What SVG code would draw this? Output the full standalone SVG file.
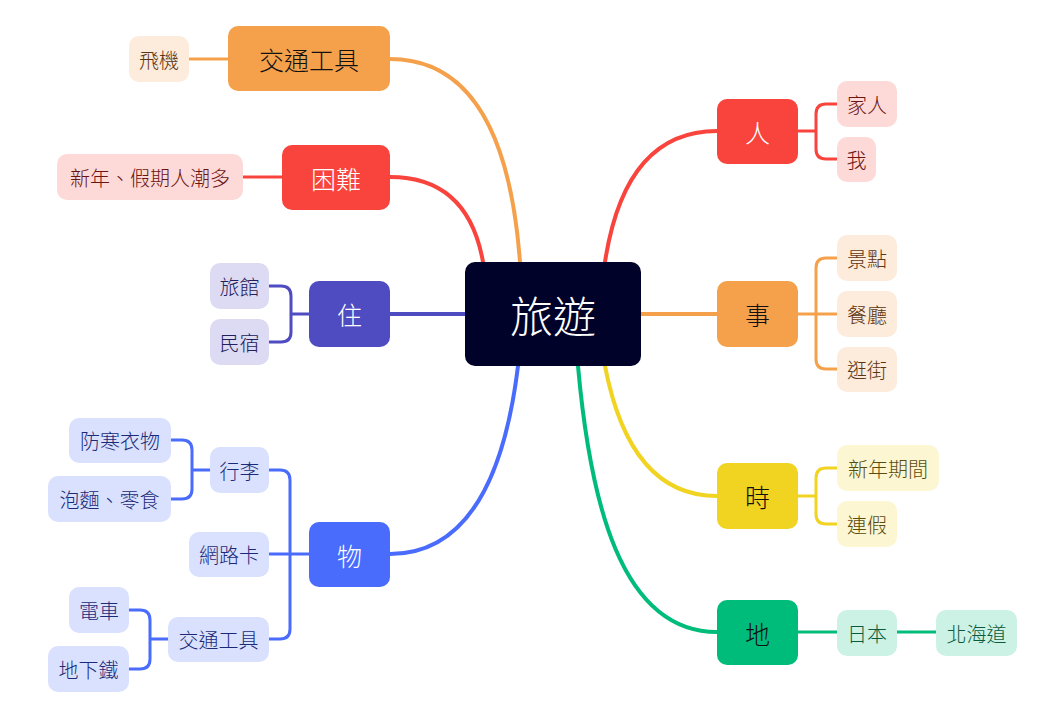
<svg xmlns="http://www.w3.org/2000/svg" width="1047" height="723" viewBox="0 0 1047 723">
  <style>
    text { font-family: "Noto Sans CJK TC", "Noto Sans CJK SC", sans-serif; font-weight: 300; text-anchor: middle; dominant-baseline: central; }
    .root-t { font-size: 43px; fill: #ffffff; }
    .main-t { font-size: 25px; }
    .sub-t { font-size: 20px; }
    .line { fill: none; stroke-linecap: round; stroke-linejoin: round; }
    .main-l { stroke-width: 4; }
    .sub-l { stroke-width: 3; }
    .red { stroke: #F9443D; }
    .orange { stroke: #F5A14C; }
    .indigo { stroke: #4F4BC1; }
    .blue { stroke: #4A6CFD; }
    .yellow { stroke: #F1D322; }
    .green { stroke: #00BC7B; }
  </style>
  <rect width="1047" height="723" fill="#ffffff"/>

  <g id="connectors">
    <!-- root to main topics -->
    <path class="line main-l orange" d="M520 262 Q505 59 390 59"/>
    <path class="line main-l red" d="M483 262 Q468 177 390 177"/>
    <path class="line main-l indigo" d="M465 314 H390"/>
    <path class="line main-l blue" d="M518 366 Q495 554 390 554"/>
    <path class="line main-l red" d="M605 262 Q625 131 717 131"/>
    <path class="line main-l orange" d="M641 314 H717"/>
    <path class="line main-l yellow" d="M605 366 Q630 496 717 496"/>
    <path class="line main-l green" d="M578 366 C590 500 620 632 717 632"/>

    <!-- left side subtopics -->
    <path class="line sub-l orange" d="M228 59 H189"/>
    <path class="line sub-l red" d="M282 177 H243"/>
    <path class="line sub-l indigo" d="M309 314 H291 M269 286 H281 Q291 286 291 296 V332 Q291 342 281 342 H269"/>
    <path class="line sub-l blue" d="M309 554 H269 M269 470 H280 Q290 470 290 480 V629 Q290 639 280 639 H269"/>
    <path class="line sub-l blue" d="M210 470 H192 M171 440 H182 Q192 440 192 450 V489 Q192 499 182 499 H171"/>
    <path class="line sub-l blue" d="M168 639 H150 M129 610 H140 Q150 610 150 620 V659 Q150 669 140 669 H129"/>

    <!-- right side subtopics -->
    <path class="line sub-l red" d="M798 131 H816 M837 104 H826 Q816 104 816 114 V149 Q816 159 826 159 H837"/>
    <path class="line sub-l orange" d="M798 314 H837 M837 258 H826 Q816 258 816 268 V359 Q816 369 826 369 H837"/>
    <path class="line sub-l yellow" d="M798 496 H816 M837 468 H826 Q816 468 816 478 V514 Q816 524 826 524 H837"/>
    <path class="line sub-l green" d="M798 632 H837 M897 632 H936"/>
  </g>

  <!-- central topic -->
  <g id="root">
    <rect x="465" y="262" width="176" height="104" rx="10" fill="#000229"/>
    <text class="root-t" x="553" y="314">旅遊</text>
  </g>

  <!-- main topics -->
  <g id="topic-transport">
    <rect x="228" y="26" width="162" height="65" rx="10" fill="#F5A14C"/>
    <text class="main-t" x="309" y="58.5" fill="#111111">交通工具</text>
  </g>
  <g id="topic-difficulty">
    <rect x="282" y="145" width="108" height="65" rx="10" fill="#F9443D"/>
    <text class="main-t" x="336" y="177.5" fill="#ffffff">困難</text>
  </g>
  <g id="topic-stay">
    <rect x="309" y="281" width="81" height="66" rx="10" fill="#4F4BC1"/>
    <text class="main-t" x="349.5" y="314" fill="#ffffff">住</text>
  </g>
  <g id="topic-things">
    <rect x="309" y="522" width="81" height="65" rx="10" fill="#4A6CFD"/>
    <text class="main-t" x="349.5" y="554.5" fill="#ffffff">物</text>
  </g>
  <g id="topic-who">
    <rect x="717" y="99" width="81" height="65" rx="10" fill="#F9443D"/>
    <text class="main-t" x="757.5" y="131.5" fill="#ffffff">人</text>
  </g>
  <g id="topic-what">
    <rect x="717" y="281" width="81" height="66" rx="10" fill="#F5A14C"/>
    <text class="main-t" x="757.5" y="314" fill="#111111">事</text>
  </g>
  <g id="topic-when">
    <rect x="717" y="463" width="81" height="66" rx="10" fill="#F1D322"/>
    <text class="main-t" x="757.5" y="496" fill="#111111">時</text>
  </g>
  <g id="topic-where">
    <rect x="717" y="600" width="81" height="65" rx="10" fill="#00BC7B"/>
    <text class="main-t" x="757.5" y="632.5" fill="#111111">地</text>
  </g>

  <!-- subtopics: transport -->
  <g id="sub-plane">
    <rect x="129" y="36" width="60" height="46" rx="10" fill="#FDEBDB"/>
    <text class="sub-t" x="159" y="59" fill="#5C3511">飛機</text>
  </g>
  <!-- subtopics: difficulty -->
  <g id="sub-crowds">
    <rect x="57" y="154" width="186" height="46" rx="10" fill="#FDD9D8"/>
    <text class="sub-t" x="150" y="177" fill="#6A1512">新年、假期人潮多</text>
  </g>
  <!-- subtopics: stay -->
  <g id="sub-hotel">
    <rect x="210" y="263" width="59" height="46" rx="10" fill="#DCDBF3"/>
    <text class="sub-t" x="239.5" y="286" fill="#22205A">旅館</text>
  </g>
  <g id="sub-bnb">
    <rect x="210" y="319" width="59" height="46" rx="10" fill="#DCDBF3"/>
    <text class="sub-t" x="239.5" y="342" fill="#22205A">民宿</text>
  </g>
  <!-- subtopics: things -->
  <g id="sub-luggage">
    <rect x="210" y="447" width="59" height="46" rx="10" fill="#DAE1FE"/>
    <text class="sub-t" x="239.5" y="470" fill="#1A2A78">行李</text>
  </g>
  <g id="sub-warm-clothes">
    <rect x="69" y="418" width="102" height="45" rx="10" fill="#DAE1FE"/>
    <text class="sub-t" x="120" y="440.5" fill="#1A2A78">防寒衣物</text>
  </g>
  <g id="sub-snacks">
    <rect x="48" y="476" width="123" height="46" rx="10" fill="#DAE1FE"/>
    <text class="sub-t" x="109.5" y="499" fill="#1A2A78">泡麵、零食</text>
  </g>
  <g id="sub-sim">
    <rect x="189" y="532" width="80" height="45" rx="10" fill="#DAE1FE"/>
    <text class="sub-t" x="229" y="554.5" fill="#1A2A78">網路卡</text>
  </g>
  <g id="sub-transport2">
    <rect x="168" y="617" width="101" height="45" rx="10" fill="#DAE1FE"/>
    <text class="sub-t" x="218.5" y="639.5" fill="#1A2A78">交通工具</text>
  </g>
  <g id="sub-train">
    <rect x="69" y="587" width="60" height="46" rx="10" fill="#DAE1FE"/>
    <text class="sub-t" x="99" y="610" fill="#1A2A78">電車</text>
  </g>
  <g id="sub-subway">
    <rect x="48" y="646" width="81" height="46" rx="10" fill="#DAE1FE"/>
    <text class="sub-t" x="88.5" y="669" fill="#1A2A78">地下鐵</text>
  </g>
  <!-- subtopics: who -->
  <g id="sub-family">
    <rect x="837" y="81" width="60" height="46" rx="10" fill="#FDD9D8"/>
    <text class="sub-t" x="867" y="104" fill="#6A1512">家人</text>
  </g>
  <g id="sub-me">
    <rect x="837" y="137" width="39" height="45" rx="10" fill="#FDD9D8"/>
    <text class="sub-t" x="856.5" y="159.5" fill="#6A1512">我</text>
  </g>
  <!-- subtopics: what -->
  <g id="sub-sights">
    <rect x="837" y="235" width="60" height="46" rx="10" fill="#FDEBDB"/>
    <text class="sub-t" x="867" y="258" fill="#5C3511">景點</text>
  </g>
  <g id="sub-restaurant">
    <rect x="837" y="291" width="60" height="46" rx="10" fill="#FDEBDB"/>
    <text class="sub-t" x="867" y="314" fill="#5C3511">餐廳</text>
  </g>
  <g id="sub-shopping">
    <rect x="837" y="347" width="60" height="45" rx="10" fill="#FDEBDB"/>
    <text class="sub-t" x="867" y="369.5" fill="#5C3511">逛街</text>
  </g>
  <!-- subtopics: when -->
  <g id="sub-new-year">
    <rect x="837" y="445" width="102" height="46" rx="10" fill="#FCF6D3"/>
    <text class="sub-t" x="888" y="468" fill="#5A4C0C">新年期間</text>
  </g>
  <g id="sub-holiday">
    <rect x="837" y="501" width="60" height="46" rx="10" fill="#FCF6D3"/>
    <text class="sub-t" x="867" y="524" fill="#5A4C0C">連假</text>
  </g>
  <!-- subtopics: where -->
  <g id="sub-japan">
    <rect x="837" y="610" width="60" height="46" rx="10" fill="#CCF2E5"/>
    <text class="sub-t" x="867" y="633" fill="#0B5A40">日本</text>
  </g>
  <g id="sub-hokkaido">
    <rect x="936" y="610" width="81" height="46" rx="10" fill="#CCF2E5"/>
    <text class="sub-t" x="976.5" y="633" fill="#0B5A40">北海道</text>
  </g>
</svg>
